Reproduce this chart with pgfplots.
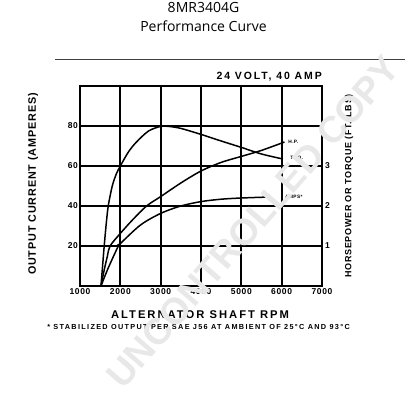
\documentclass[border=0pt]{standalone}
\usepackage{pgfplots}
\pgfplotsset{compat=1.18}
\usepackage{fontspec}
\setmainfont{Liberation Sans}
\newfontfamily\cf[LetterSpace=8]{Liberation Sans}
\newfontfamily\cfw[LetterSpace=18]{Liberation Sans}
\newfontfamily\tf{Open Sans}
\begin{document}
\begin{tikzpicture}
\path[use as bounding box] (0pt,0pt) rectangle (407pt,400pt);
\node[font=\tf\fontsize{14}{16}\selectfont] at (203.5pt,393pt) {8MR3404G};
\node[font=\tf\fontsize{14}{16}\selectfont] at (203.5pt,373.5pt) {Performance Curve};
\draw[line width=0.9pt, black!75] (55pt,341pt) -- (405pt,341pt);
\begin{axis}[
  at={(80pt,114pt)}, anchor=south west, width=242pt, height=200pt, scale only axis,
  xmin=1000, xmax=7000, ymin=0, ymax=100,
  xtick={1000,2000,3000,4000,5000,6000,7000},
  xticklabels={1000,2000,3000,4000,5000,6000,7000},
  ytick={20,40,60,80,100}, yticklabels={20,40,60,80,{}},
  major tick length=0pt,
  grid=major, grid style={line width=1.8pt,black},
  axis line style={line width=2.1pt},
  /pgf/number format/assume math mode=true,
  tick label style={font=\cf\bfseries\fontsize{8.5}{9}\selectfont},
  xticklabel style={yshift=1pt},
  yticklabel style={xshift=1.5pt},
  clip=false,
]
% torque (peaks)
\addplot[line width=1.5pt, smooth, no marks] coordinates {
 (1520,0) (1560,10) (1600,20) (1650,31) (1700,40) (1800,50) (1900,56) (2000,60)
 (2200,67) (2400,72) (2700,77.5) (3000,79.8) (3200,79.8) (3500,78.8) (4000,75.8)
 (4500,72.5) (5000,69.3) (5500,66) (6030,63.5)};
% horsepower (rising)
\addplot[line width=1.5pt, smooth, no marks] coordinates {
 (1520,0) (1600,8) (1680,15) (1745,20) (2000,26.3) (2300,33) (2650,40) (3000,44.7)
 (3500,51.5) (4000,57.5) (4500,61.8) (5000,64.8) (5500,67.8) (6070,72)};
% amps (saturating)
\addplot[line width=1.5pt, smooth, no marks] coordinates {
 (1520,0) (1700,9) (1950,20) (2000,21.2) (2500,30.5) (3000,36.3) (3500,40)
 (4000,42.2) (4500,43.4) (5000,44) (5700,44.5)};
\node[font=\cf\bfseries\fontsize{4.8}{5}\selectfont, anchor=west] at (axis cs:6080,72.3) {H.P.};
\node[font=\cf\bfseries\fontsize{4.8}{5}\selectfont, anchor=west] at (axis cs:6130,63.8) {TRQ.};
\node[font=\cf\bfseries\fontsize{4.8}{5}\selectfont, anchor=west] at (axis cs:6000,44.8) {AMPS*};
\node[font=\cfw\bfseries\fontsize{10.5}{11}\selectfont, anchor=south east, inner sep=0pt] at (axis description cs:1.0,1.025) {24 VOLT, 40 AMP};
\node[font=\cfw\bfseries\fontsize{11.2}{13}\selectfont] at (axis description cs:0.496,-0.145) {ALTERNATOR SHAFT RPM};
\node[font=\cfw\bfseries\fontsize{7.3}{8}\selectfont] at (axis description cs:0.49,-0.205) {* STABILIZED OUTPUT PER SAE J56 AT AMBIENT OF 25°C AND 93°C};
\node[font=\cf\bfseries\fontsize{10.8}{11}\selectfont, rotate=90] at (axis description cs:-0.194,0.51) {OUTPUT CURRENT (AMPERES)};
\node[font=\cf\bfseries\fontsize{9}{10}\selectfont, rotate=90] at (axis description cs:1.112,0.5) {HORSEPOWER OR TORQUE (FT.-LBS)};
\end{axis}
\begin{axis}[
  at={(80pt,114pt)}, anchor=south west, width=242pt, height=200pt, scale only axis,
  xmin=1000, xmax=7000, ymin=0, ymax=5,
  axis y line*=right, axis x line=none, axis line style={draw=none},
  ytick={1,2,3}, major tick length=0pt,
  /pgf/number format/assume math mode=true,
  tick label style={font=\cf\bfseries\fontsize{8.5}{9}\selectfont},
  yticklabel style={xshift=-0.5pt},
]
\addplot[draw=none] coordinates {(1000,0) (7000,5)};
\end{axis}
\node[font=\bfseries\fontsize{37}{40}\selectfont, text=black!9, rotate=49] at (253pt,178pt) {UNCONTROLLED COPY};
\end{tikzpicture}
\end{document}
